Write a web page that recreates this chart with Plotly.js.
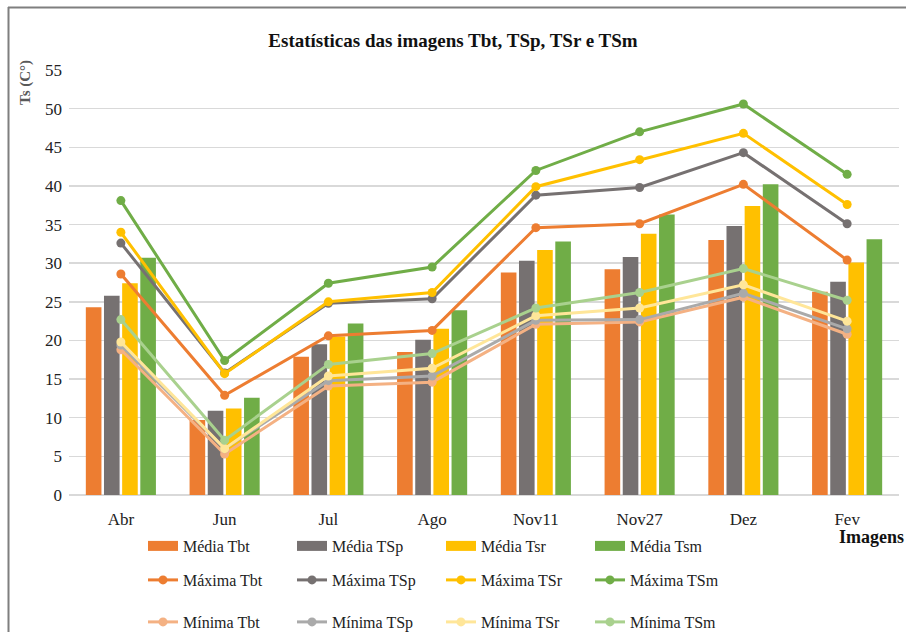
<!DOCTYPE html>
<html>
<head>
<meta charset="utf-8">
<script src="https://cdn.plot.ly/plotly-3.0.1.min.js"></script>
<style>
  html, body { margin: 0; padding: 0; background: #ffffff; }
  #chart { width: 906px; height: 632px; }
</style>
</head>
<body>
<div id="chart"></div>
<script>
// Surface temperature statistics per image date
const categories = ['Abr', 'Jun', 'Jul', 'Ago', 'Nov11', 'Nov27', 'Dez', 'Fev'];

const mediaTbt = [24.3, 9.7, 17.9, 18.5, 28.8, 29.2, 33.0, 26.3];
const mediaTSp = [25.8, 10.9, 19.5, 20.1, 30.3, 30.8, 34.8, 27.6];
const mediaTsr = [27.4, 11.2, 20.5, 21.5, 31.7, 33.8, 37.4, 30.1];
const mediaTsm = [30.7, 12.6, 22.2, 23.9, 32.8, 36.3, 40.2, 33.1];

const maxTbt = [28.6, 12.9, 20.6, 21.3, 34.6, 35.1, 40.2, 30.4];
const maxTSp = [32.6, 15.8, 24.8, 25.4, 38.8, 39.8, 44.3, 35.1];
const maxTSr = [34.0, 15.7, 25.0, 26.2, 39.9, 43.4, 46.8, 37.6];
const maxTSm = [38.1, 17.4, 27.4, 29.5, 42.0, 47.0, 50.6, 41.5];

const minTbt = [18.8, 5.3, 14.1, 14.6, 22.1, 22.4, 25.6, 20.8];
const minTSp = [19.4, 6.0, 14.8, 15.4, 22.6, 22.7, 26.1, 21.5];
const minTSr = [19.8, 6.0, 15.4, 16.4, 23.2, 24.2, 27.2, 22.5];
const minTSm = [22.7, 7.1, 16.9, 18.3, 24.2, 26.2, 29.3, 25.2];

const yTicks = [0, 5, 10, 15, 20, 25, 30, 35, 40, 45, 50, 55];

const FONT = 'Liberation Serif';
const C = {
  tbt: '#ED7D31', tsp: '#767171', tsr: '#FFC000', tsm: '#70AD47',
  tbtL: '#F4B183', tspL: '#AAAAAA', tsrL: '#FFE699', tsmL: '#A9D18E'
};

// page geometry (px)
const W = 906, H = 632;
const M = { l: 69, r: 7, t: 70, b: 137 };
const PW = W - M.l - M.r, PH = H - M.t - M.b;
const px = x => (x - M.l) / PW;
const py = y => (H - M.b - y) / PH;

function barTrace(name, y, color, group) {
  return {
    type: 'bar', name: name, x: categories, y: y,
    marker: { color: color, line: { width: 0 } },
    legendgroup: group, showlegend: false, hoverinfo: 'x+y+name'
  };
}
// wide flat swatch for each bar series in the legend
function barKey(name, color, group) {
  return {
    type: 'scatter', mode: 'lines', name: name, x: [null], y: [null],
    line: { color: color, width: 12 }, legendgroup: group, legend: 'legend'
  };
}
function lineTrace(name, y, color, legend) {
  return {
    type: 'scatter', mode: 'lines+markers', name: name, x: categories, y: y,
    line: { color: color, width: 3 },
    marker: { color: color, size: 9, symbol: 'circle' },
    legend: legend
  };
}

const traces = [
  barTrace('Média Tbt', mediaTbt, C.tbt, 'mTbt'),
  barTrace('Média TSp', mediaTSp, C.tsp, 'mTSp'),
  barTrace('Média Tsr', mediaTsr, C.tsr, 'mTsr'),
  barTrace('Média Tsm', mediaTsm, C.tsm, 'mTsm'),
  barKey('Média Tbt', C.tbt, 'mTbt'),
  barKey('Média TSp', C.tsp, 'mTSp'),
  barKey('Média Tsr', C.tsr, 'mTsr'),
  barKey('Média Tsm', C.tsm, 'mTsm'),
  lineTrace('Máxima Tbt', maxTbt, C.tbt, 'legend2'),
  lineTrace('Máxima TSp', maxTSp, C.tsp, 'legend2'),
  lineTrace('Máxima TSr', maxTSr, C.tsr, 'legend2'),
  lineTrace('Máxima TSm', maxTSm, C.tsm, 'legend2'),
  lineTrace('Mínima Tbt', minTbt, C.tbtL, 'legend3'),
  lineTrace('Mínima TSp', minTSp, C.tspL, 'legend3'),
  lineTrace('Mínima TSr', minTSr, C.tsrL, 'legend3'),
  lineTrace('Mínima TSm', minTSm, C.tsmL, 'legend3')
];

// legends placed in container coordinates so they don't push the margins
function legendAt(yPix) {
  return {
    orientation: 'h', xref: 'container', yref: 'container',
    x: 143 / W, xanchor: 'left', y: 1 - yPix / H, yanchor: 'middle',
    entrywidth: 104, entrywidthmode: 'pixels', traceorder: 'normal',
    font: { family: FONT, size: 16, color: '#222' },
    bgcolor: 'rgba(0,0,0,0)', borderwidth: 0, tracegroupgap: 0
  };
}

const layout = {
  width: W, height: H,
  margin: M,
  paper_bgcolor: '#ffffff', plot_bgcolor: '#ffffff',
  font: { family: FONT, size: 17, color: '#222' },
  title: {
    text: '<b>Estatísticas das imagens Tbt, TSp, TSr e TSm</b>',
    font: { family: FONT, size: 19, color: '#111' },
    x: 0.5, xref: 'container', xanchor: 'center', y: 1 - 40 / H, yanchor: 'middle'
  },
  barmode: 'group', bargap: 0.3, bargroupgap: 0.14,
  xaxis: {
    type: 'category', range: [-0.5, categories.length - 0.5],
    showgrid: false, zeroline: false, showline: false, ticks: '',
    ticklabelstandoff: 12,
    tickfont: { family: FONT, size: 17, color: '#222' }, fixedrange: true
  },
  yaxis: {
    range: [0, 55], tickvals: yTicks, ticktext: yTicks.map(String),
    showgrid: true, gridcolor: '#D9D9D9', gridwidth: 1.5,
    zeroline: true, zerolinecolor: '#D9D9D9', zerolinewidth: 1.5,
    showline: false, ticks: '', ticklabelstandoff: 6,
    tickfont: { family: FONT, size: 17, color: '#222' }, fixedrange: true
  },
  legend: legendAt(546),
  legend2: legendAt(580),
  legend3: legendAt(622),
  annotations: [
    {
      text: '<b>Ts (C°)</b>', textangle: -90, showarrow: false,
      xref: 'paper', yref: 'paper', x: px(25), y: py(83),
      xanchor: 'center', yanchor: 'middle',
      font: { family: FONT, size: 15, color: '#595959' }
    },
    {
      text: '<b>Imagens</b>', showarrow: false,
      xref: 'paper', yref: 'paper', x: px(906), y: py(537),
      xanchor: 'right', yanchor: 'middle',
      font: { family: FONT, size: 18, color: '#111' }
    }
  ],
  shapes: [
    { type: 'line', xref: 'paper', yref: 'paper', x0: px(8), x1: px(906), y0: py(7.5), y1: py(7.5),
      line: { color: '#7F7F7F', width: 2 } },
    { type: 'line', xref: 'paper', yref: 'paper', x0: px(8.5), x1: px(8.5), y0: py(7), y1: py(632),
      line: { color: '#7F7F7F', width: 2 } }
  ],
  showlegend: true
};

Plotly.newPlot('chart', traces, layout, { displayModeBar: false, staticPlot: true });
</script>
</body>
</html>
